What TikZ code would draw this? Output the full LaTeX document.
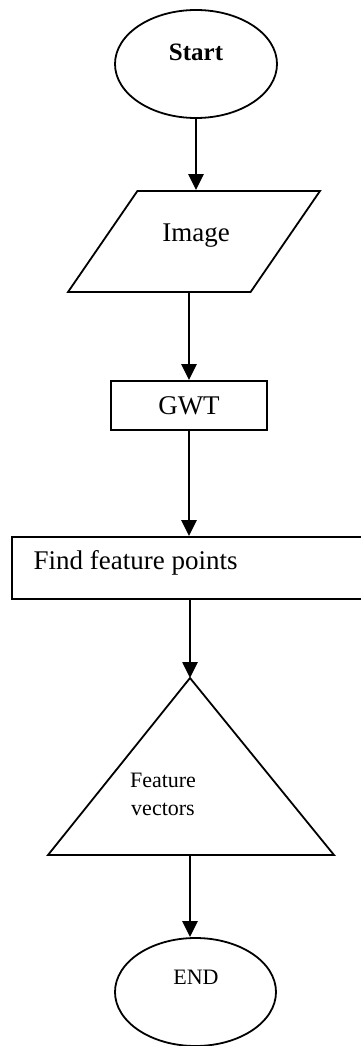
\documentclass[tikz,border=0pt]{standalone}
\usepackage{fontspec}
\setmainfont{Liberation Serif}
\usetikzlibrary{
  positioning,
  arrows.meta,
  shapes.geometric
}

\begin{document}
\begin{tikzpicture}[x=1pt,y=-1pt,> ={Triangle[length=16pt,width=15pt]}]
  \tikzset{
    box/.style={draw,line width=1.8pt,inner sep=0pt},
    terminal/.style={box,ellipse,minimum width=162pt,minimum height=108pt},
    flow/.style={->,line width=2.6pt},
    bigtext/.style={font=\fontsize{27}{30}\selectfont},
    smalltext/.style={font=\fontsize{22}{28}\selectfont},
  }
  \clip (0,0) rectangle (361,1046);

  % start
  \node[terminal] (start) at (196,64) {};
  \node[font=\bfseries\fontsize{25}{28}\selectfont] (starttxt) at (196,52) {Start};

  % input image
  \node[box,inner sep=2pt,trapezium,trapezium stretches,
    trapezium left angle=58.5,trapezium right angle=121.5,
    minimum width=252pt,minimum height=101pt] (image) at (194,241.5) {};
  \node[bigtext] (imagetxt) at (196,236) {Image};

  % transform
  \node[box,bigtext,minimum width=156pt,minimum height=49pt] (gwt) at (189,405.5) {GWT};

  % feature points, runs off the right side
  \node[box,minimum width=352pt,minimum height=62pt] (find) at (188,568) {};
  \node[bigtext,anchor=west] (findtxt) at (30,563) {Find feature points};

  % output triangle
  \coordinate (tritop) at (190,678);
  \coordinate (trileft) at (48,855);
  \coordinate (triright) at (334,855);
  \draw[line width=1.8pt,line join=miter] (tritop) -- (trileft) -- (triright) -- cycle;
  \node[smalltext,align=center] (feat) at (163,794) {Feature\\vectors};
  \coordinate (tribase) at (190,855);

  % end
  \node[terminal,minimum width=161pt] (end) at (195.5,992) {};
  \node[smalltext] (endtxt) at (196,977) {END};

  \draw[flow] (start.south) -- (start.south |- image.north);
  \draw[flow] (gwt.north |- image.south) -- (gwt.north);
  \draw[flow] (gwt.south) -- (gwt.south |- find.north);
  \draw[flow] (find.south -| tritop) -- (tritop);
  \draw[flow] (tribase) -- (tribase |- end.north);
\end{tikzpicture}
\end{document}
